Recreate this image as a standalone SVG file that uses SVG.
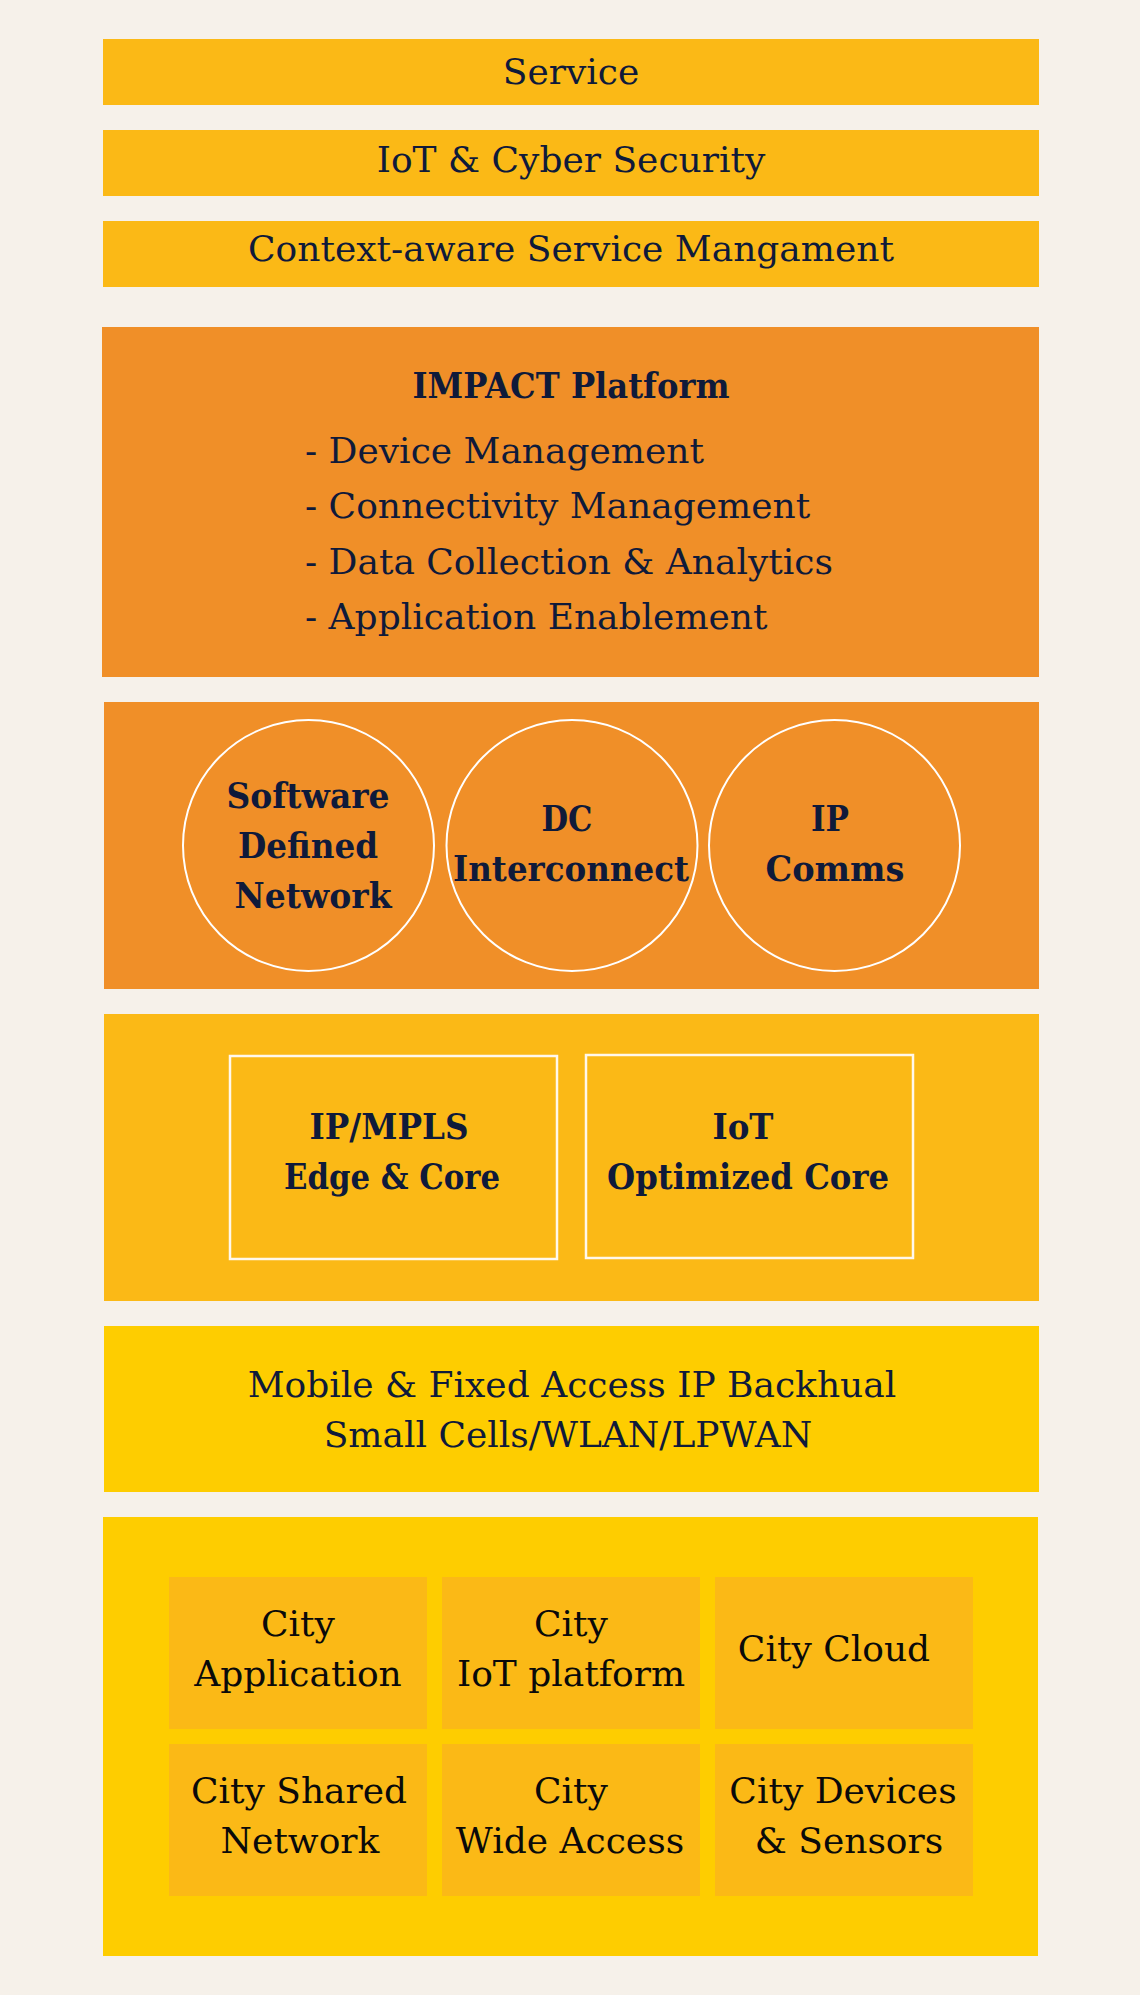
<svg xmlns="http://www.w3.org/2000/svg" width="1140" height="1995" viewBox="0 0 1140 1995">
<style>
.t{font-family:"DejaVu Serif","Liberation Serif",serif;font-size:36px;fill:#0f1a3a;text-anchor:middle}
.b{font-weight:bold}
.l{text-anchor:start}
.k{fill:#0a0a0a}
.gold{fill:#fbb916}
.orange{fill:#f08f28}
.yellow{fill:#fecd00}
.ring{fill:none;stroke:#ffffff;stroke-width:2}
.sq{fill:#fbb916;stroke:#fff8ec;stroke-width:2.5}
</style>
<rect x="0" y="0" width="1140" height="1995" fill="#f6f1ea"/>
<g transform="translate(0,-2)">
<g id="service">
<rect class="gold" x="103" y="41" width="936" height="66"/>
<text class="t" x="571" y="86">Service</text>
</g>
<g id="security">
<rect class="gold" x="103" y="132" width="936" height="66"/>
<text class="t" x="571" y="174">IoT &amp; Cyber Security</text>
</g>
<g id="context">
<rect class="gold" x="103" y="223" width="936" height="66"/>
<text class="t" x="571" y="263">Context-aware Service Mangament</text>
</g>
<g id="impact">
<rect class="orange" x="102" y="329" width="937" height="350"/>
<text class="t b" x="571" y="400" textLength="317" lengthAdjust="spacingAndGlyphs">IMPACT Platform</text>
<text class="t l" x="305" y="465">- Device Management</text>
<text class="t l" x="305" y="520">- Connectivity Management</text>
<text class="t l" x="305" y="576">- Data Collection &amp; Analytics</text>
<text class="t l" x="305" y="631">- Application Enablement</text>
</g>
<g id="network-layer">
<rect class="orange" x="104" y="704" width="935" height="287"/>
</g>
<g id="sdn">
<circle class="ring" cx="308.5" cy="847.5" r="125.5"/>
<text class="t b" x="308" y="810" textLength="163" lengthAdjust="spacingAndGlyphs">Software</text>
<text class="t b" x="308" y="860" textLength="140" lengthAdjust="spacingAndGlyphs">Defined</text>
<text class="t b" x="313" y="910" textLength="157" lengthAdjust="spacingAndGlyphs">Network</text>
</g>
<g id="dc">
<circle class="ring" cx="572" cy="847.5" r="125.5"/>
<text class="t b" x="567" y="833" textLength="51" lengthAdjust="spacingAndGlyphs">DC</text>
<text class="t b" x="571" y="883" textLength="236" lengthAdjust="spacingAndGlyphs">Interconnect</text>
</g>
<g id="ipcomms">
<circle class="ring" cx="834.5" cy="847.5" r="125.5"/>
<text class="t b" x="830" y="833" textLength="38" lengthAdjust="spacingAndGlyphs">IP</text>
<text class="t b" x="835" y="883" textLength="139" lengthAdjust="spacingAndGlyphs">Comms</text>
</g>
<g id="core-layer">
<rect class="gold" x="104" y="1016" width="935" height="287"/>
</g>
<g id="mpls">
<rect class="sq" x="230" y="1058" width="327" height="203"/>
<text class="t b" x="389" y="1141" textLength="159" lengthAdjust="spacingAndGlyphs">IP/MPLS</text>
<text class="t b" x="392" y="1191" textLength="216" lengthAdjust="spacingAndGlyphs">Edge &amp; Core</text>
</g>
<g id="iotcore">
<rect class="sq" x="586" y="1057" width="327" height="203"/>
<text class="t b" x="743" y="1141" textLength="61" lengthAdjust="spacingAndGlyphs">IoT</text>
<text class="t b" x="748" y="1191" textLength="282" lengthAdjust="spacingAndGlyphs">Optimized Core</text>
</g>
<g id="access">
<rect class="yellow" x="104" y="1328" width="935" height="166"/>
<text class="t" x="572" y="1399">Mobile &amp; Fixed Access IP Backhual</text>
<text class="t" x="568" y="1449">Small Cells/WLAN/LPWAN</text>
</g>
<g id="city-layer">
<rect class="yellow" x="103" y="1519" width="935" height="439"/>
</g>
<g id="city-app">
<rect class="gold" x="169" y="1579" width="258" height="152"/>
<text class="t k" x="298" y="1638">City</text>
<text class="t k" x="298" y="1688">Application</text>
</g>
<g id="city-iot">
<rect class="gold" x="442" y="1579" width="258" height="152"/>
<text class="t k" x="571" y="1638">City</text>
<text class="t k" x="571" y="1688">IoT platform</text>
</g>
<g id="city-cloud">
<rect class="gold" x="715" y="1579" width="258" height="152"/>
<text class="t k" x="834" y="1663">City Cloud</text>
</g>
<g id="city-shared">
<rect class="gold" x="169" y="1746" width="258" height="152"/>
<text class="t k" x="299" y="1805">City Shared</text>
<text class="t k" x="300" y="1855">Network</text>
</g>
<g id="city-wide">
<rect class="gold" x="442" y="1746" width="258" height="152"/>
<text class="t k" x="571" y="1805">City</text>
<text class="t k" x="570" y="1855">Wide Access</text>
</g>
<g id="city-devices">
<rect class="gold" x="715" y="1746" width="258" height="152"/>
<text class="t k" x="843" y="1805">City Devices</text>
<text class="t k" x="849" y="1855">&amp; Sensors</text>
</g>
</g>
<g id="connectors"></g>
</svg>
